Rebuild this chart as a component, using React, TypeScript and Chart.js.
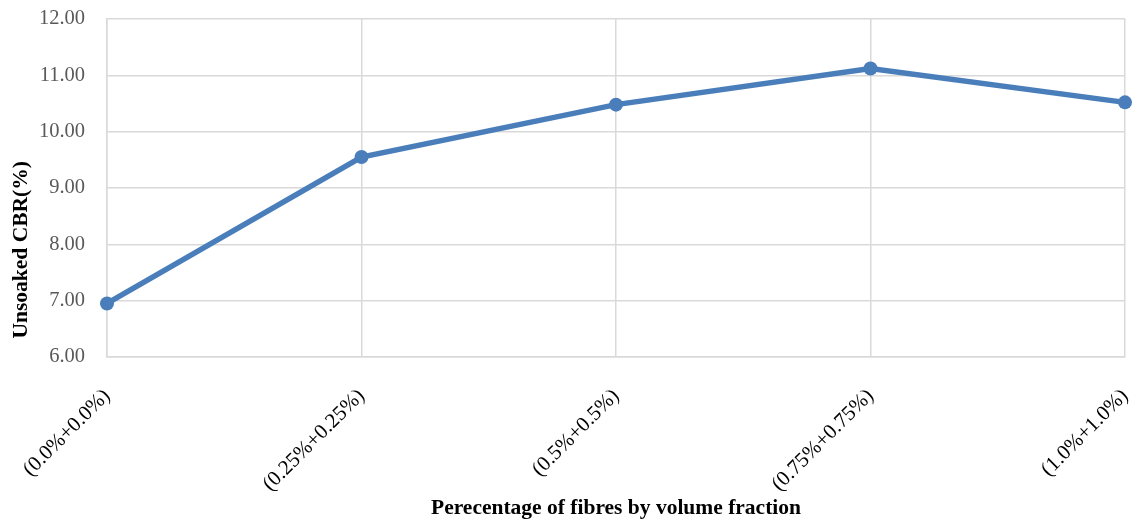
import React, { useEffect, useRef } from "react";
import { Chart, registerables } from "chart.js";

Chart.register(...registerables);

const categories = [
  "(0.0%+0.0%)",
  "(0.25%+0.25%)",
  "(0.5%+0.5%)",
  "(0.75%+0.75%)",
  "(1.0%+1.0%)",
];
const cbrValues = [6.95, 9.55, 10.48, 11.12, 10.52];
const yMin = 6;
const yMax = 12;
const yStep = 1;
const xTitle = "Perecentage of fibres by volume fraction";
const yTitle = "Unsoaked CBR(%)";

export default function App() {
  const ref = useRef<HTMLCanvasElement | null>(null);

  useEffect(() => {
    if (!ref.current) return;
    const serif = "'Liberation Serif', 'Times New Roman', serif";
    const yTitlePlugin = {
      id: "yTitleOffset",
      afterDraw(chart: any) {
        const ctx = chart.ctx;
        const area = chart.chartArea;
        ctx.save();
        ctx.translate(21, area.top + (area.bottom - area.top) * 0.683);
        ctx.rotate(-Math.PI / 2);
        ctx.font = `bold 21.5px ${serif}`;
        ctx.fillStyle = "#000000";
        ctx.textAlign = "center";
        ctx.textBaseline = "middle";
        ctx.fillText(yTitle, 0, 0);
        ctx.restore();
      },
    };
    const chart = new Chart(ref.current, {
      type: "line",
      data: {
        labels: categories,
        datasets: [
          {
            data: cbrValues,
            borderColor: "#4A7EBB",
            backgroundColor: "#4A7EBB",
            borderWidth: 5.5,
            pointRadius: 7,
            pointHoverRadius: 7,
            pointBackgroundColor: "#4A7EBB",
            pointBorderColor: "#4A7EBB",
            pointBorderWidth: 0,
            tension: 0,
          },
        ],
      },
      plugins: [yTitlePlugin],
      options: {
        responsive: false,
        animation: false,
        layout: { padding: { top: 19, right: 7, left: 0, bottom: 0 } },
        plugins: {
          legend: { display: false },
          tooltip: { enabled: false },
          title: { display: false },
        },
        scales: {
          x: {
            offset: false,
            grid: { color: "#D9D9D9", lineWidth: 1.5, drawTicks: false },
            border: { color: "#D9D9D9", width: 1.5 },
            ticks: {
              minRotation: 45,
              maxRotation: 45,
              autoSkip: false,
              padding: 27,
              color: "#000000",
              font: { family: serif, size: 21 },
            },
            title: {
              display: true,
              text: xTitle,
              color: "#000000",
              font: { family: serif, size: 21.5, weight: "bold" },
              padding: { top: 0, bottom: 0 },
            },
            afterFit: (scale: any) => {
              scale.height = 164;
              scale.paddingLeft = 0;
              scale.paddingRight = 0;
            },
          },
          y: {
            min: yMin,
            max: yMax,
            grid: { color: "#D9D9D9", lineWidth: 1.5, drawTicks: false },
            border: { color: "#D9D9D9", width: 1.5 },
            ticks: {
              stepSize: yStep,
              padding: 22,
              color: "#595959",
              font: { family: serif, size: 20.5 },
              callback: (v: any) => Number(v).toFixed(2),
            },
            title: { display: false },
            afterFit: (scale: any) => {
              scale.width = 107;
              scale.paddingTop = 0;
              scale.paddingBottom = 0;
            },
          },
        },
      },
    });
    return () => chart.destroy();
  }, []);

  return (
    <div style={{ position: "absolute", left: 0, top: 0, width: 1132, height: 521, background: "#fff" }}>
      <canvas ref={ref} width={1132} height={521} style={{ width: 1132, height: 521, display: "block" }} />
    </div>
  );
}
